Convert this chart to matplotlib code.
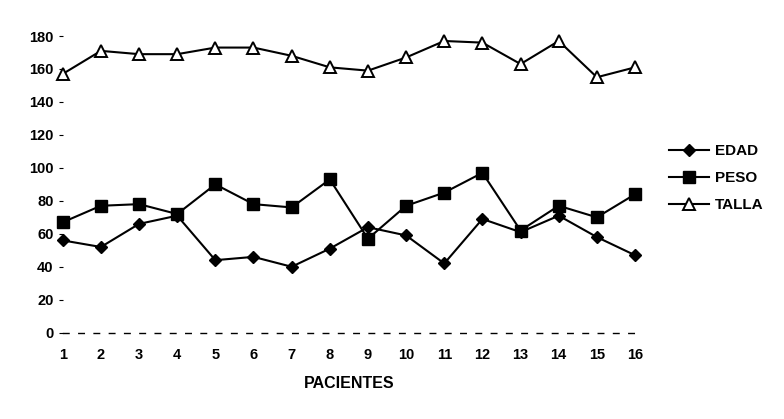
import matplotlib.pyplot as plt
import numpy as np

plt.rcParams['font.family'] = ['Liberation Sans', 'DejaVu Sans']

# Datos por paciente
pacientes = list(range(1, 17))
edad = [56, 52, 66, 71, 44, 46, 40, 51, 64, 59, 42, 69, 61, 71, 58, 47]
peso = [67, 77, 78, 72, 90, 78, 76, 93, 57, 77, 85, 97, 62, 77, 70, 84]
talla = [157, 171, 169, 169, 173, 173, 168, 161, 159, 167, 177, 176, 163, 177, 155, 161]
yticks = list(range(0, 181, 20))

fig = plt.figure(figsize=(7.84, 4.19), dpi=100)
ax = fig.add_axes([0.080, 0.206, 0.730, 0.708])

ax.plot(pacientes, edad, marker='D', color='k', mfc='k', ms=6.5, lw=1.5,
        clip_on=False, label='EDAD')
ax.plot(pacientes, peso, marker='s', color='k', mfc='k', ms=8, lw=1.5,
        clip_on=False, label='PESO')
ax.plot(pacientes, talla, marker='^', color='k', mfc='white', mec='k',
        mew=1.4, ms=8.5, lw=1.5, clip_on=False, label='TALLA')

ax.set_xlim(1, 16)
ax.set_ylim(0, 180)
ax.set_xticks(pacientes)
ax.set_yticks(yticks)
ax.tick_params(axis='both', labelsize=10.5, length=3, width=0.8,
               direction='out')
ax.tick_params(axis='x', length=0, pad=11)
for lbl in ax.get_xticklabels() + ax.get_yticklabels():
    lbl.set_fontweight('bold')

for s in ['top', 'right', 'left']:
    ax.spines[s].set_visible(False)
ax.spines['bottom'].set_linestyle((0, (4, 7)))
ax.spines['bottom'].set_linewidth(1.0)

ax.set_xlabel('PACIENTES', fontsize=11.5, fontweight='bold', labelpad=10)

leg = ax.legend(loc='center left', bbox_to_anchor=(1.035, 0.52),
                frameon=False, handlelength=2.6, handletextpad=0.4,
                labelspacing=0.85, prop={'size': 11, 'weight': 'bold'})

fig.savefig('out.png', dpi=100, facecolor='white')
